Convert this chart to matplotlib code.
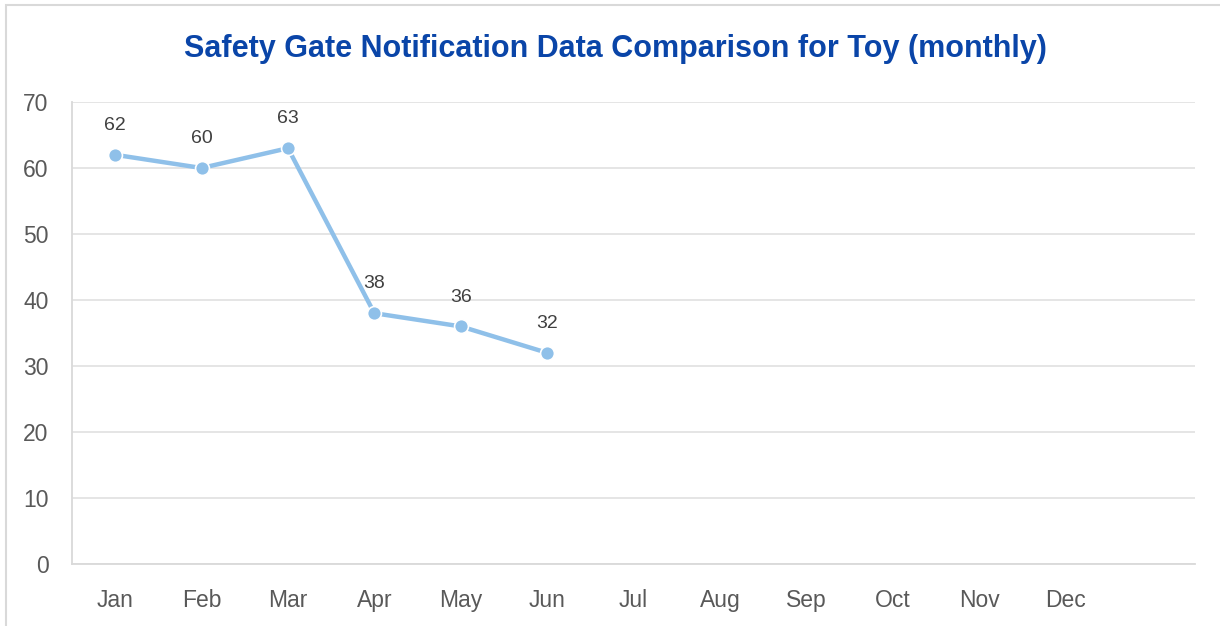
import matplotlib
matplotlib.use('Agg')
import matplotlib.pyplot as plt
from matplotlib.patches import Rectangle
from matplotlib import font_manager

months = ['Jan', 'Feb', 'Mar', 'Apr', 'May', 'Jun', 'Jul', 'Aug', 'Sep', 'Oct', 'Nov', 'Dec']
notifications = [62, 60, 63, 38, 36, 32]
yticks = [0, 10, 20, 30, 40, 50, 60, 70]

names = {f.name for f in font_manager.fontManager.ttflist}
narrow = 'Liberation Sans Narrow' if 'Liberation Sans Narrow' in names else 'Liberation Sans'
plt.rcParams['font.family'] = [narrow, 'DejaVu Sans']

fig = plt.figure(figsize=(12.2, 6.26), dpi=100)
# chart frame
fig.patches.append(Rectangle((6 / 1220, -0.1), 1.2, 1.1 - 5 / 626, transform=fig.transFigure,
                             fill=False, edgecolor='#d9d9d9', linewidth=1.5))

ax = fig.add_axes([72 / 1220, 62 / 626, (1195 - 72) / 1220, (564 - 102) / 626])

x = list(range(len(notifications)))
ax.plot(x, notifications, color='#8fc0e9', linewidth=3.2, marker='o', markersize=10,
        markerfacecolor='#8fc0e9', markeredgecolor='white', markeredgewidth=1.2, zorder=3,
        solid_capstyle='round')
for xi, v in zip(x, notifications):
    ax.annotate(str(v), (xi, v), xytext=(0, 15), textcoords='offset points',
                ha='center', va='bottom', fontsize=14, color='#404040')

ax.set_xlim(-0.5, 12.5)
ax.set_ylim(0, 70)
ax.set_xticks(range(len(months)))
ax.set_xticklabels(months)
ax.set_yticks(yticks)
ax.tick_params(axis='both', length=0, labelsize=16.5, labelcolor='#595959')
ax.tick_params(axis='x', pad=18)
ax.tick_params(axis='y', pad=17)
ax.grid(axis='y', color='#e3e3e3', linewidth=1.3)
ax.set_axisbelow(True)
for s in ['top', 'right']:
    ax.spines[s].set_visible(False)
for s in ['left', 'bottom']:
    ax.spines[s].set_color('#d9d9d9')
    ax.spines[s].set_linewidth(1.3)

fig.text(615 / 1220, 1 - 49 / 626, 'Safety Gate Notification Data Comparison for Toy (monthly)',
         ha='center', va='center', fontsize=22, fontweight='bold', color='#0a45a8')

fig.savefig('out.png', dpi=100)
